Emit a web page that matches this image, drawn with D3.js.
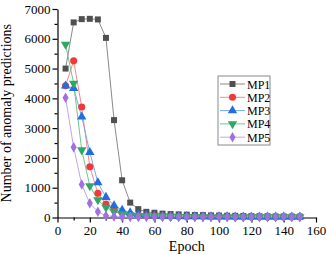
<!DOCTYPE html>
<html>
<head>
<meta charset="utf-8">
<script src="https://cdn.jsdelivr.net/npm/d3@7"></script>
<style>
  body { margin: 0; background: #fff; }
  svg text { font-family: "Liberation Serif", "Times New Roman", serif !important; fill: #000; }
</style>
</head>
<body>
<div id="chart"></div>
<script>
// epochs 5..150
const epochs = [5, 10, 15, 20, 25, 30, 35, 40, 45, 50, 55, 60, 65, 70, 75, 80, 85, 90, 95, 100, 105, 110, 115, 120, 125, 130, 135, 140, 145, 150];

const mp1 = [5000, 6550, 6660, 6670, 6650, 6030, 3270, 1250, 500, 280, 190, 160, 130, 115, 105, 95, 85, 80, 70, 65, 60, 55, 50, 45, 40, 40, 35, 35, 30, 30];
const mp2 = [4420, 5260, 3710, 1700, 810, 450, 260, 160, 110, 80, 60, 50, 45, 40, 35, 35, 30, 30, 25, 25, 25, 20, 20, 20, 20, 20, 20, 20, 20, 20];
const mp3 = [4420, 4340, 3380, 2190, 1170, 680, 400, 250, 160, 110, 80, 60, 50, 45, 40, 35, 30, 30, 25, 25, 25, 20, 20, 20, 20, 20, 20, 20, 20, 20];
const mp4 = [5810, 4500, 2265, 1060, 590, 340, 200, 120, 80, 60, 50, 40, 35, 30, 30, 25, 25, 20, 20, 20, 20, 20, 20, 20, 20, 20, 20, 20, 20, 20];
const mp5 = [4020, 2355, 1110, 475, 195, 60, 30, 20, 20, 20, 20, 20, 20, 20, 20, 20, 20, 20, 20, 20, 20, 20, 20, 20, 20, 20, 20, 20, 20, 20];

const seriesNames = ["MP1", "MP2", "MP3", "MP4", "MP5"];
const xTicks = [0, 20, 40, 60, 80, 100, 120, 140, 160];
const yTicks = [0, 1000, 2000, 3000, 4000, 5000, 6000, 7000];

const series = [
  { name: "MP1", values: mp1, color: "#505050", line: "#8a8a8a", shape: d3.symbolSquare, size: 36 },
  { name: "MP2", values: mp2, color: "#f03a3a", line: "#f58a8a", shape: d3.symbolCircle, size: 40 },
  { name: "MP3", values: mp3, color: "#1f6fe0", line: "#7aa8ee", shape: d3.symbolTriangle, size: 38 },
  { name: "MP4", values: mp4, color: "#2fa866", line: "#6cc795", shape: "down", size: 38 },
  { name: "MP5", values: mp5, color: "#a070e0", line: "#c2a3ee", shape: d3.symbolDiamond, size: 32 }
];

const margin = { top: 9, right: 11, bottom: 36.5, left: 57.5 };
const W = 327, H = 254;
const width = W - margin.left - margin.right;
const height = H - margin.top - margin.bottom;

const svg = d3.select("#chart").append("svg")
  .attr("width", W).attr("height", H)
  .append("g")
  .attr("transform", `translate(${margin.left},${margin.top})`);

const x = d3.scaleLinear().domain([0, 160]).range([0, width]);
const y = d3.scaleLinear().domain([0, 7000]).range([height, 0]);

// minor ticks
svg.append("g")
  .attr("transform", `translate(0,${height})`)
  .call(d3.axisBottom(x).tickValues(d3.range(10, 160, 20)).tickSize(3).tickFormat(""))
  .call(g => g.select(".domain").remove());
svg.append("g")
  .call(d3.axisLeft(y).tickValues(d3.range(500, 7000, 1000)).tickSize(3).tickFormat(""))
  .call(g => g.select(".domain").remove());

// major axes
const xAxis = svg.append("g")
  .attr("transform", `translate(0,${height})`)
  .call(d3.axisBottom(x).tickValues(xTicks).tickSize(5).tickPadding(3).tickSizeOuter(0).tickFormat(d3.format("d")));
xAxis.selectAll("text").style("font-size", "13px");

const yAxis = svg.append("g")
  .call(d3.axisLeft(y).tickValues(yTicks).tickSize(5).tickPadding(2).tickSizeOuter(0).tickFormat(d3.format("d")));
yAxis.selectAll("text").style("font-size", "13px");

svg.selectAll(".domain, .tick line").attr("stroke", "#000").attr("stroke-width", 1.2);

// axis titles
svg.append("text")
  .attr("x", width / 2).attr("y", height + 33)
  .attr("text-anchor", "middle")
  .style("font-size", "14px")
  .text("Epoch");

svg.append("text")
  .attr("transform", `translate(${-47},${height / 2}) rotate(-90)`)
  .attr("text-anchor", "middle")
  .style("font-size", "14px")
  .text("Number of anomaly predictions");

const downTri = {
  draw(ctx, size) {
    const h = Math.sqrt(size * 4 / Math.sqrt(3)) * Math.sqrt(3) / 2;
    const s = h / Math.sqrt(3);
    ctx.moveTo(0, h * 2 / 3);
    ctx.lineTo(s, -h / 3);
    ctx.lineTo(-s, -h / 3);
    ctx.closePath();
  }
};

function symbolPath(s) {
  return d3.symbol().type(s.shape === "down" ? downTri : s.shape).size(s.size)();
}

const line = d3.line()
  .x((d, i) => x(epochs[i]))
  .y(d => y(d));

series.forEach(s => {
  svg.append("path")
    .datum(s.values)
    .attr("fill", "none")
    .attr("stroke", s.line)
    .attr("stroke-width", 1)
    .attr("d", line);
});

series.forEach(s => {
  svg.selectAll(null)
    .data(s.values)
    .enter()
    .append("path")
    .attr("d", symbolPath(s))
    .attr("transform", (d, i) => `translate(${x(epochs[i])},${y(d)})`)
    .attr("fill", s.color);
});

// legend
const legend = svg.append("g")
  .attr("transform", `translate(${218 - margin.left},${76 - margin.top})`);

legend.append("rect")
  .attr("x", 0).attr("y", 0)
  .attr("width", 52).attr("height", 69)
  .attr("fill", "#fff")
  .attr("stroke", "#8a8a8a")
  .attr("stroke-width", 1);

series.forEach((s, i) => {
  const ly = 8 + i * 13.3;
  legend.append("line")
    .attr("x1", 2).attr("x2", 27)
    .attr("y1", ly).attr("y2", ly)
    .attr("stroke", s.line).attr("stroke-width", 1);
  legend.append("path")
    .attr("d", symbolPath(s))
    .attr("transform", `translate(14.5,${ly})`)
    .attr("fill", s.color);
  legend.append("text")
    .attr("x", 29).attr("y", ly + 4.5)
    .style("font-size", "12px")
    .text(seriesNames[i]);
});
</script>
</body>
</html>
